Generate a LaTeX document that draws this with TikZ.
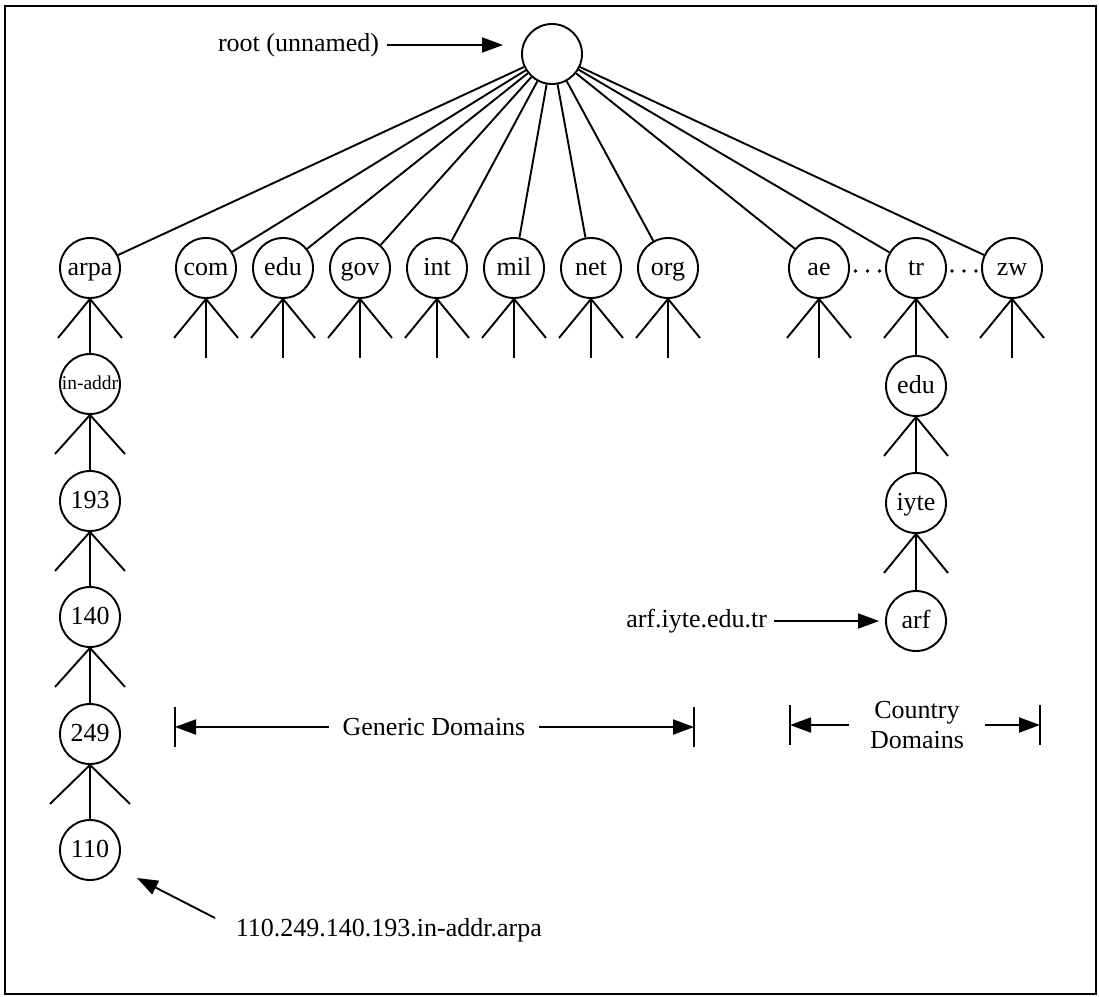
\documentclass[tikz,border=0pt]{standalone}
\usepackage{fontspec}
\setmainfont{Liberation Serif}
\usetikzlibrary{arrows.meta,calc}
\newcommand{\dnsfork}[2][32]{\draw ($(#2.south)+(-#1,39)$) -- (#2.south) -- ($(#2.south)+(#1,39)$);}
\begin{document}
\begin{tikzpicture}[x=1pt,y=-1pt,
  line width=1.9pt,
  dnode/.style={circle, draw, minimum size=60pt, inner sep=0pt, text height=20pt, text depth=5pt, font=\fontsize{26}{28}\selectfont},
  small/.style={font=\fontsize{19.5}{22}\selectfont, text height=15pt, text depth=4pt},
  lbl/.style={font=\fontsize{26}{30}\selectfont, inner sep=0pt},
  arr/.style={-{Triangle[length=21pt,width=15pt]}},
  dot/.style={circle, fill, inner sep=0pt, minimum size=3.6pt},
  ]
\useasboundingbox (0,0) rectangle (1099,996);
\draw (5,6) rectangle (1096,994);

% nodes
\node[dnode] (root) at (552,54) {};
\node[dnode] (arpa) at (90,268) {arpa};
\foreach \n/\x in {com/206, edu/283, gov/360, int/437, mil/514, net/591, org/668}
  {\node[dnode] (\n) at (\x,268) {\n};}
\node[dnode] (ae) at (819,268) {ae};
\node[dnode] (tr) at (916,268) {tr};
\node[dnode] (zw) at (1012,268) {zw};

\node[dnode, small] (inaddr) at (90,384) {in-addr};
\node[dnode] (n193) at (90,501) {193};
\node[dnode] (n140) at (90,617) {140};
\node[dnode] (n249) at (90,734) {249};
\node[dnode] (n110) at (90,850) {110};

\node[dnode] (tredu) at (916,386) {edu};
\node[dnode] (iyte) at (916,503) {iyte};
\node[dnode] (arf) at (916,621) {arf};

% root connections
\foreach \c in {arpa,com,edu,gov,int,mil,net,org,ae,tr,zw}
  {\draw (root) -- (\c);}

% forks
\foreach \c in {arpa,com,edu,gov,int,mil,net,org,ae,tr,zw,tredu,iyte}
  {\dnsfork{\c}}
\foreach \c in {inaddr,n193,n140}
  {\dnsfork[35]{\c}}
\dnsfork[40]{n249}

% stubs
\foreach \c in {com,edu,gov,int,mil,net,org,ae,zw}
  {\draw (\c.south) -- ++(0,59);}

% chains
\draw (arpa.south) -- (inaddr.north);
\draw (inaddr.south) -- (n193.north);
\draw (n193.south) -- (n140.north);
\draw (n140.south) -- (n249.north);
\draw (n249.south) -- (n110.north);
\draw (tr.south) -- (tredu.north);
\draw (tredu.south) -- (iyte.north);
\draw (iyte.south) -- (arf.north);

% dots
\foreach \a/\b in {ae/tr, tr/zw}
  {\foreach \d in {-12,0,12}
    {\node[dot] at ($(\a.east)!0.5!(\b.west)+(\d,3)$) {};}}

% root label
\node[lbl, anchor=east] (rootlbl) at (380,45) {root (unnamed)};
\coordinate (roottip) at (503,45);
\draw[arr] ([xshift=7pt]rootlbl.east) -- (roottip);

% arf label
\node[lbl, anchor=east] (arflbl) at (768,621) {arf.iyte.edu.tr};
\draw[arr] ([xshift=6pt]arflbl.east) -- ([xshift=-6pt]arf.west);

% address label
\node[lbl, anchor=west] (addrlbl) at (235,930) {110.249.140.193.in-addr.arpa};
\coordinate (addrtail) at (215,918);
\coordinate (addrtip) at (137,878);
\draw[arr] (addrtail) -- (addrtip);

% generic domains
\node[lbl] (gen) at (434,727) {Generic Domains};
\coordinate (genL) at (175,727);
\coordinate (genR) at (694,727);
\draw (genL) ++(0,-20) -- ++(0,40);
\draw (genR) ++(0,-20) -- ++(0,40);
\draw[arr] ([xshift=-13pt]gen.west) -- (genL);
\draw[arr] ([xshift=13pt]gen.east) -- (genR);

% country domains
\node[lbl, align=center] (cty) at (917,725) {Country\\Domains};
\coordinate (ctyL) at (790,725);
\coordinate (ctyR) at (1040,725);
\draw (ctyL) ++(0,-20) -- ++(0,40);
\draw (ctyR) ++(0,-20) -- ++(0,40);
\draw[arr] ([xshift=-20pt]cty.west) -- (ctyL);
\draw[arr] ([xshift=20pt]cty.east) -- (ctyR);
\end{tikzpicture}
\end{document}
